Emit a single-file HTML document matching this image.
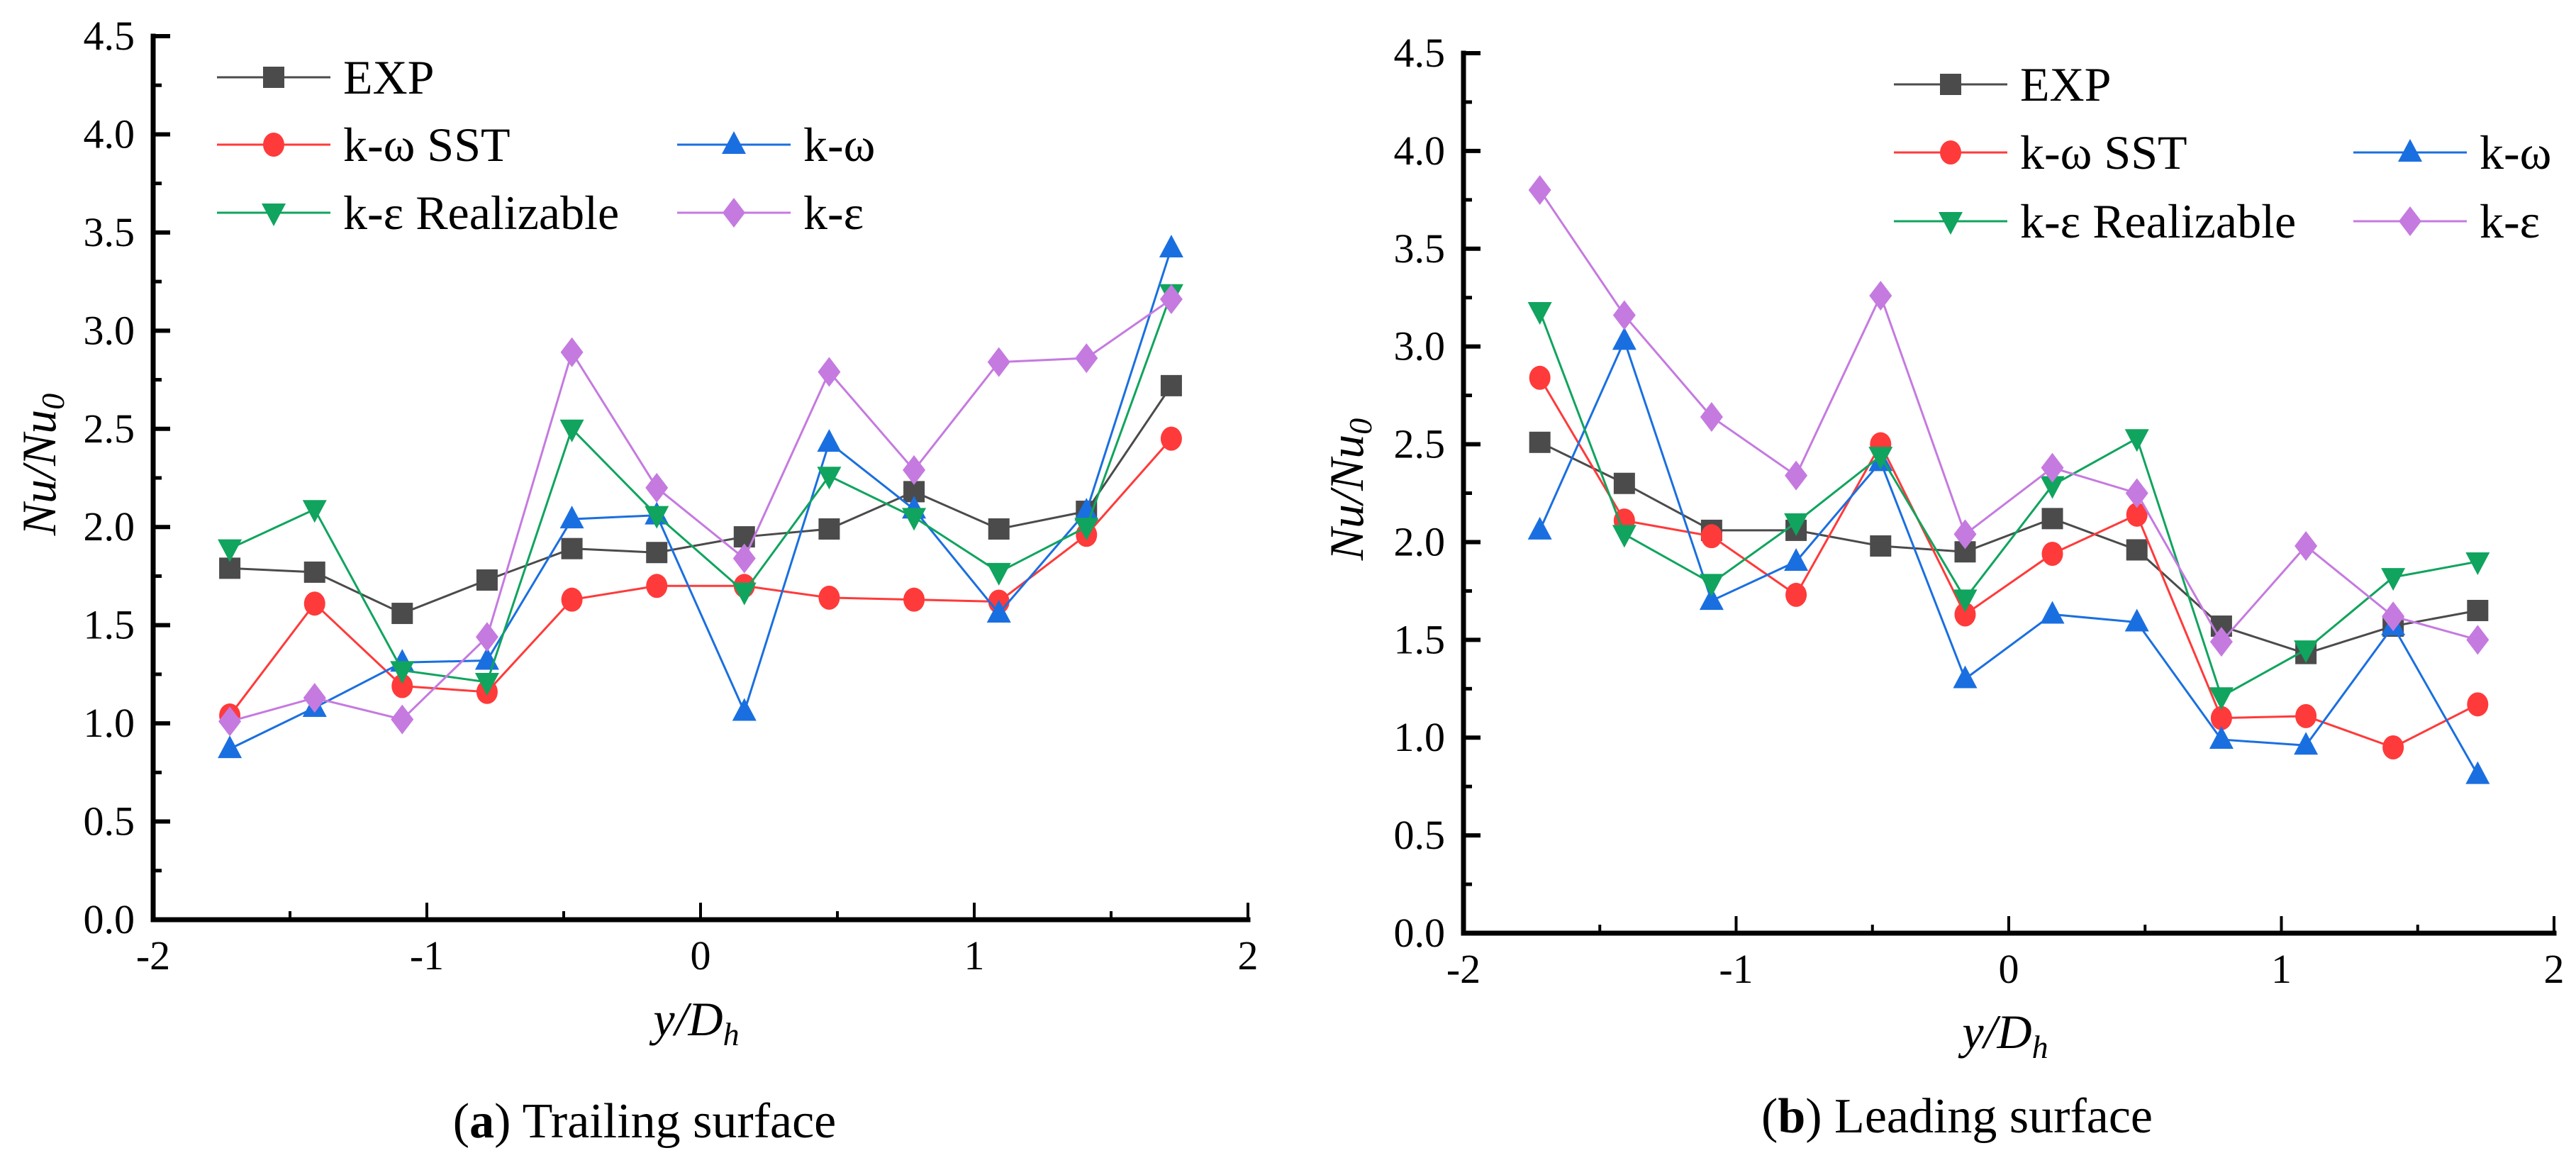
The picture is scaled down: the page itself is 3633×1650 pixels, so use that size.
<!DOCTYPE html>
<html><head><meta charset="utf-8"><style>
html,body{margin:0;padding:0;background:#fff;}
svg, svg text{font-family:"Liberation Serif","DejaVu Serif","Times New Roman",serif;}
</style></head><body>
<svg id="fig" width="3633" height="1645" viewBox="0 0 3633 1645" xmlns="http://www.w3.org/2000/svg" font-family="Liberation Serif, DejaVu Serif, serif">
<g id="pa"></g>
<g id="pb"></g>
</svg>
<script>
const xPos = [-1.72,-1.41,-1.09,-0.78,-0.47,-0.16,0.16,0.47,0.78,1.09,1.41,1.72];
const xTicks = [-2,-1,0,1,2];
const yTicks = [0,0.5,1,1.5,2,2.5,3,3.5,4,4.5];
const seriesNames = ["EXP","k-ω SST","k-ω","k-ε Realizable","k-ε"];
const trailEXP = [1.79,1.77,1.56,1.73,1.89,1.87,1.95,1.99,2.18,1.99,2.08,2.72];
const trailSST = [1.04,1.61,1.19,1.16,1.63,1.70,1.70,1.64,1.63,1.62,1.96,2.45];
const trailKW  = [0.87,1.08,1.31,1.32,2.04,2.06,1.06,2.43,2.09,1.56,2.08,3.42];
const trailRKE = [1.89,2.09,1.27,1.21,2.50,2.06,1.67,2.26,2.05,1.77,2.00,3.19];
const trailKE  = [1.01,1.13,1.02,1.44,2.89,2.20,1.84,2.79,2.29,2.84,2.86,3.16];
const leadEXP = [2.51,2.30,2.06,2.06,1.98,1.95,2.12,1.96,1.57,1.43,1.57,1.65];
const leadSST = [2.84,2.11,2.03,1.73,2.50,1.63,1.94,2.14,1.10,1.11,0.95,1.17];
const leadKW  = [2.06,3.03,1.70,1.90,2.41,1.30,1.63,1.59,0.99,0.96,1.57,0.81];
const leadRKE = [3.18,2.04,1.79,2.10,2.44,1.71,2.29,2.53,1.21,1.45,1.82,1.90];
const leadKE  = [3.80,3.16,2.64,2.34,3.26,2.04,2.38,2.25,1.49,1.98,1.62,1.50];

const colors = ["#4b4b4b","#ff3a3a","#1a6fe0","#10a45e","#c57ae0"];
const shapes = ["square","circle","up","down","diamond"];
const FONT = "Liberation Serif, DejaVu Serif, serif";
const NS="http://www.w3.org/2000/svg";
function mk(tag,attrs,parent){const e=document.createElementNS(NS,tag);for(const k in attrs)e.setAttribute(k,attrs[k]);if(tag==="text")e.setAttribute("font-family",FONT);parent.appendChild(e);return e;}

function marker(g,shape,cx,cy,col){
  let e;
  if(shape==="square") e=mk("rect",{x:cx-15,y:cy-15,width:30,height:30,fill:col},g);
  else if(shape==="circle") e=mk("ellipse",{cx:cx,cy:cy,rx:15,ry:17,fill:col},g);
  else if(shape==="up") e=mk("polygon",{points:`${cx},${cy-19} ${cx+17},${cy+13} ${cx-17},${cy+13}`,fill:col},g);
  else if(shape==="down") e=mk("polygon",{points:`${cx},${cy+19} ${cx+17},${cy-13} ${cx-17},${cy-13}`,fill:col},g);
  else e=mk("polygon",{points:`${cx},${cy-21} ${cx+16},${cy} ${cx},${cy+21} ${cx-16},${cy}`,fill:col},g);
  
  
  return e;
}

function chart(g,cfg,data){
  const {x0,x1,y0,y1}=cfg;
  const sx=v=>x0+(v+2)/4*(x1-x0);
  const sy=v=>y0-(v/4.5)*(y0-y1);
  data.forEach((d,si)=>{
    const sg=mk("g",{},g);
    
    
    const pts=d.map((v,i)=>sx(xPos[i])+","+sy(v)).join(" ");
    const pl=mk("polyline",{points:pts,fill:"none",stroke:colors[si],"stroke-width":3},sg);
    
    
    d.forEach((v,i)=>marker(sg,shapes[si],sx(xPos[i]),sy(v),colors[si]));
  });
  const ax=mk("path",{d:`M${x0},${y1} L${x0},${y0} L${x1},${y0}`,fill:"none",stroke:"#000","stroke-width":7,"stroke-linecap":"square"},g);
  
  
  for(let v=0;v<=4.5001;v+=0.25){
    const major=Math.abs(v*2-Math.round(v*2))<1e-6;
    const t=mk("line",{x1:x0,x2:x0+(major?24:12),y1:sy(v),y2:sy(v),stroke:"#000","stroke-width":major?6:5},g);
    
    
  }
  for(let v=-2;v<=2.001;v+=0.5){
    const major=Math.abs(v-Math.round(v))<1e-6;
    const t=mk("line",{x1:sx(v),x2:sx(v),y1:y0,y2:y0-(major?24:12),stroke:"#000","stroke-width":4},g);
    
    
  }
  yTicks.forEach(v=>{
    const t=mk("text",{x:x0-26,y:sy(v)+19,"text-anchor":"end","font-size":58},g);
    t.textContent=v.toFixed(1);
    
    
  });
  xTicks.forEach(v=>{
    const t=mk("text",{x:sx(v),y:y0+70,"text-anchor":"middle","font-size":58},g);
    t.textContent=String(v);
    
    
  });
  const yt=mk("text",{transform:`translate(${cfg.ylx},${cfg.yly}) rotate(-90)`,"text-anchor":"middle","font-size":68,"font-style":"italic"},g);
  yt.innerHTML='Nu/Nu<tspan font-size="46" dy="12">0</tspan>';
  
  
  const xt=mk("text",{x:cfg.xlx,y:cfg.xly,"text-anchor":"middle","font-size":68,"font-style":"italic"},g);
  xt.innerHTML='y/D<tspan font-size="46" dy="14">h</tspan>';
  
  
  const lg=mk("g",{},g);
  
  
  const L=cfg.leg;
  const entries=[[L.c1,L.r[0]],[L.c1,L.r[1]],[L.c2,L.r[1]],[L.c1,L.r[2]],[L.c2,L.r[2]]];
  entries.forEach((p,si)=>{
    const eg=mk("g",{},lg);
    
    
    mk("line",{x1:p[0],x2:p[0]+160,y1:p[1],y2:p[1],stroke:colors[si],"stroke-width":3},eg);
    marker(eg,shapes[si],p[0]+80,p[1],colors[si]);
    const t=mk("text",{x:p[0]+178,y:p[1]+23,"font-size":68},eg);
    t.textContent=seriesNames[si];
  });
  const c=mk("text",{x:cfg.capx,y:cfg.capy,"text-anchor":"middle","font-size":70},g);
  c.innerHTML='(<tspan font-weight="bold">'+cfg.letter+'</tspan>) '+cfg.cap;
  
  
}

chart(document.getElementById("pa"),
 {x0:216,x1:1760,y0:1297,y1:51,ylx:78,yly:655,xlx:982,xly:1460,capx:909,capy:1604,letter:"a",cap:"Trailing surface",
  leg:{c1:306,c2:955,r:[109,204,300]}},
 [trailEXP,trailSST,trailKW,trailRKE,trailKE]);
chart(document.getElementById("pb"),
 {x0:2064,x1:3602,y0:1316,y1:75,ylx:1922,yly:690,xlx:2828,xly:1478,capx:2760,capy:1597,letter:"b",cap:"Leading surface",
  leg:{c1:2671,c2:3319,r:[119,215,312]}},
 [leadEXP,leadSST,leadKW,leadRKE,leadKE]);
</script>
</body></html>
